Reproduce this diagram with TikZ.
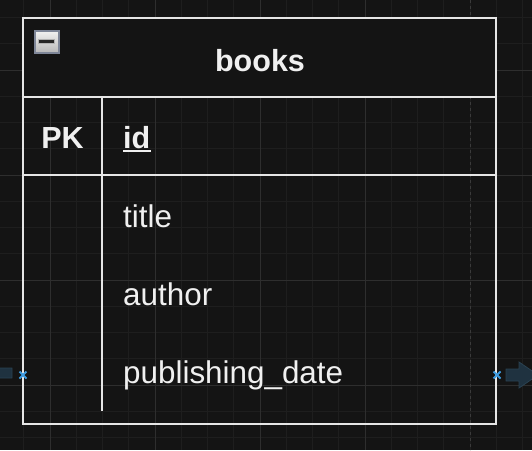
\documentclass[tikz,border=0pt]{standalone}
\usepackage{fontspec}
\setmainfont{Liberation Sans}
\definecolor{bgdark}{HTML}{141414}
\definecolor{gridminor}{HTML}{1E1E1E}
\definecolor{gridmajor}{HTML}{2E2E2E}
\definecolor{pagebreak}{HTML}{3A3A3A}
\definecolor{linegray}{HTML}{E6E6E6}
\definecolor{textgray}{HTML}{F0F0F0}
\definecolor{hoverblue}{HTML}{1F3240}
\definecolor{hoveredge}{HTML}{2A4252}
\definecolor{markblue}{HTML}{3D9BE0}
\definecolor{iconedge}{HTML}{7E8698}
\tikzset{
    cell/.style={text=textgray, font=\fontsize{31.4}{36}\selectfont, inner sep=0pt},
    headcell/.style={text=textgray, font=\fontsize{30.5}{36}\selectfont\bfseries, inner sep=0pt},
    frame/.style={draw=linegray, line width=2.5pt},
    hover/.style={fill=hoverblue, draw=hoveredge, line width=0.8pt},
    marker/.style={draw=markblue, line width=1.8pt},
}

\begin{document}
\begin{tikzpicture}[x=1pt, y=-1pt]
    % Canvas with the editor grid.
    \useasboundingbox (0,0) rectangle (532,450);
    \clip (0,0) rectangle (532,450);
    \fill[bgdark] (0,0) rectangle (532,450);
    \foreach \i in {0,...,21}
        \draw[gridminor, line width=1pt] ({-2.5+26.25*\i},0) -- ++(0,450);
    \foreach \i in {0,...,17}
        \draw[gridminor, line width=1pt] (0,{17.5+26.25*\i}) -- ++(532,0);
    \foreach \x in {50,155,260,365}
        \draw[gridmajor, line width=1pt] (\x,0) -- ++(0,450);
    \foreach \y in {70,175,280,385}
        \draw[gridmajor, line width=1pt] (0,\y) -- ++(532,0);
    \draw[pagebreak, line width=1pt, dashed] (470,0) -- ++(0,450);

    % Table frame.
    \fill[bgdark] (23,18) rectangle (496,97);
    \draw[frame] (23,18) rectangle (496,424);
    \draw[frame] (23,97) -- (496,97);
    \draw[frame] (23,175) -- (496,175);
    \draw[frame] (102,97) -- (102,411);

    % Collapse button.
    \node[draw=iconedge, line width=2pt, top color=white!95!black,
        bottom color=white!72!black, minimum width=24pt, minimum height=22pt,
        inner sep=0pt] (collapse) at (46.5,41.5) {};
    \draw[fill=black!85, draw=white!70!black, line width=0.6pt]
        ([xshift=-8pt]collapse.center) ++(0,-2) rectangle ++(16,4);

    % Title and fields.
    \node[headcell, anchor=base] (tblname) at (260,71) {books};
    \node[headcell, anchor=base] (pk) at (62.5,148) {PK};
    \node[headcell, anchor=base west] (fid) at (123,148) {id};
    \draw[textgray, line width=2pt] ([yshift=-3pt]fid.base west) -- ([yshift=-3pt]fid.base east);
    \node[cell, anchor=base west] (ftitle) at (123,227) {title};
    \node[cell, anchor=base west] (fauthor) at (123,305) {author};
    \node[cell, anchor=base west] (fdate) at (123,383) {publishing\_date};

    % Hover handles on the last row.
    \coordinate (pinleft) at (23,375);
    \coordinate (pinright) at (497,375);
    \draw[hover] (12,368) -- (-4,368) -- (-4,361) -- (-20,373) -- (-4,385)
        -- (-4,378) -- (12,378) -- cycle;
    \draw[hover] (506,369) -- (519,369) -- (519,362) -- (538,375) -- (519,388)
        -- (519,381) -- (506,381) -- cycle;
    \foreach \p in {pinleft,pinright} {
        \draw[marker] (\p) ++(-3.5,-3.5) -- ++(7,7);
        \draw[marker] (\p) ++(-3.5,3.5) -- ++(7,-7);
    }
\end{tikzpicture}
\end{document}
